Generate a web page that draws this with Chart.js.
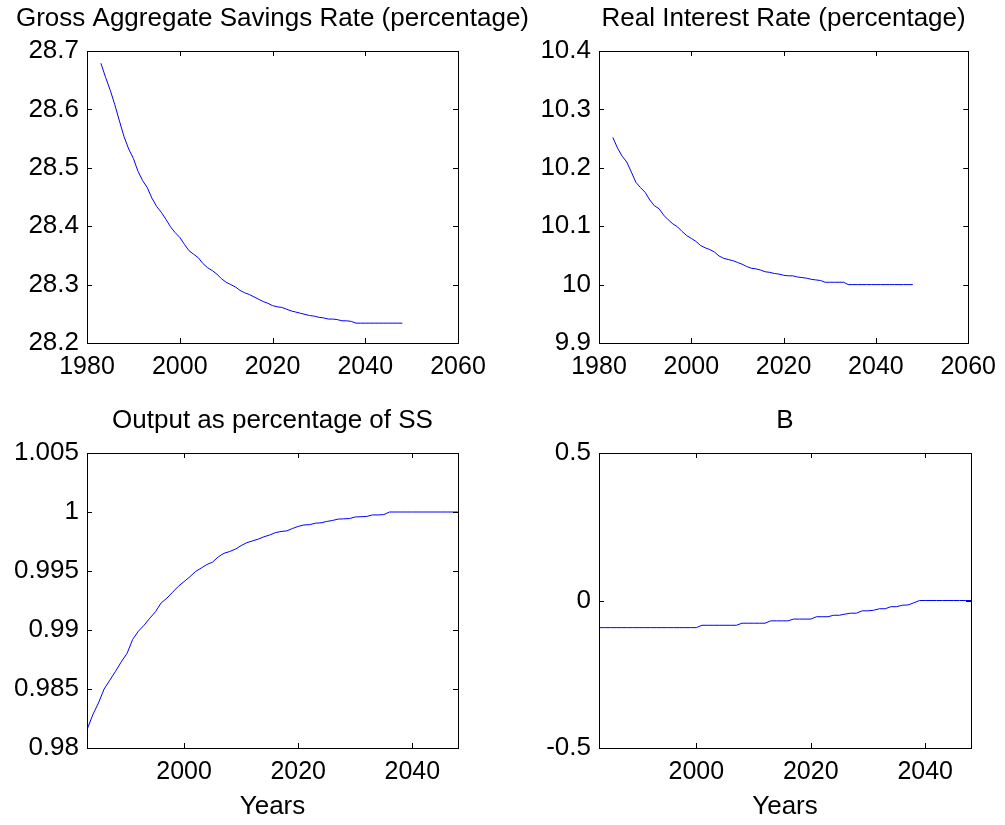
<!DOCTYPE html>
<html>
<head>
<meta charset="utf-8">
<title>Transition paths</title>
<script src="https://cdn.jsdelivr.net/npm/chart.js@4.4.1/dist/chart.umd.min.js"></script>
<style>
  html, body { margin: 0; padding: 0; background: #fff; }
  #wrap { position: relative; width: 1005px; height: 825px; }
  #wrap canvas { position: absolute; left: 0; top: 0; }
</style>
</head>
<body>
<div id="wrap">
  <canvas id="savingsChart" width="1005" height="825"></canvas>
  <canvas id="interestChart" width="1005" height="825"></canvas>
  <canvas id="outputChart" width="1005" height="825"></canvas>
  <canvas id="bChart" width="1005" height="825"></canvas>
</div>
<script>
// simulated years
const years = [
  1983, 1984, 1985, 1986, 1987, 1988, 1989, 1990, 1991, 1992, 1993,
  1994, 1995, 1996, 1997, 1998, 1999, 2000, 2001, 2002, 2003, 2004,
  2005, 2006, 2007, 2008, 2009, 2010, 2011, 2012, 2013, 2014, 2015,
  2016, 2017, 2018, 2019, 2020, 2021, 2022, 2023, 2024, 2025, 2026,
  2027, 2028, 2029, 2030, 2031, 2032, 2033, 2034, 2035, 2036, 2037,
  2038, 2039, 2040, 2041, 2042, 2043, 2044, 2045, 2046, 2047, 2048
];

const savingsRate = [
  28.679, 28.655, 28.633, 28.608, 28.580, 28.553, 28.532, 28.516, 28.494, 28.478, 28.466,
  28.448, 28.434, 28.424, 28.412, 28.399, 28.389, 28.381, 28.369, 28.358, 28.352, 28.346,
  28.336, 28.329, 28.324, 28.318, 28.310, 28.304, 28.300, 28.296, 28.290, 28.286, 28.283,
  28.279, 28.275, 28.271, 28.268, 28.264, 28.262, 28.261, 28.258, 28.255, 28.253, 28.251,
  28.249, 28.247, 28.246, 28.244, 28.243, 28.241, 28.241, 28.240, 28.238, 28.238, 28.237,
  28.234, 28.234, 28.234, 28.234, 28.234, 28.234, 28.234, 28.234, 28.234, 28.234, 28.234
];

const interestRate = [
  10.252, 10.234, 10.220, 10.210, 10.193, 10.175, 10.166, 10.158, 10.145, 10.135, 10.130,
  10.119, 10.111, 10.104, 10.099, 10.091, 10.084, 10.079, 10.074, 10.067, 10.063, 10.060,
  10.056, 10.049, 10.045, 10.043, 10.041, 10.038, 10.035, 10.031, 10.028, 10.027, 10.025,
  10.022, 10.021, 10.019, 10.018, 10.016, 10.015, 10.015, 10.013, 10.012, 10.011, 10.009,
  10.008, 10.007, 10.004, 10.004, 10.004, 10.004, 10.004, 10.000, 10.000, 10.000, 10.000,
  10.000, 10.000, 10.000, 10.000, 10.000, 10.000, 10.000, 10.000, 10.000, 10.000, 10.000
];

const outputRatio = [
  0.98155, 0.98280, 0.98381, 0.98500, 0.98575, 0.98650, 0.98730, 0.98800, 0.98920, 0.98990, 0.99040,
  0.99100, 0.99155, 0.99230, 0.99270, 0.99320, 0.99370, 0.99410, 0.99450, 0.99495, 0.99525, 0.99555,
  0.99575, 0.99620, 0.99650, 0.99665, 0.99685, 0.99715, 0.99740, 0.99755, 0.99770, 0.99790, 0.99805,
  0.99825, 0.99835, 0.99840, 0.99860, 0.99878, 0.99890, 0.99893, 0.99905, 0.99908, 0.99920, 0.99928,
  0.99940, 0.99942, 0.99945, 0.99958, 0.99960, 0.99962, 0.99975, 0.99975, 0.99978, 1.00000, 1.00000,
  1.00000, 1.00000, 1.00000, 1.00000, 1.00000, 1.00000, 1.00000, 1.00000, 1.00000, 1.00000, 1.00000
];

const bValues = [
  -0.092, -0.092, -0.092, -0.092, -0.092, -0.092, -0.092, -0.092, -0.092, -0.092, -0.092,
  -0.092, -0.092, -0.092, -0.092, -0.092, -0.092, -0.092, -0.084, -0.084, -0.084, -0.084,
  -0.084, -0.084, -0.084, -0.077, -0.077, -0.077, -0.077, -0.077, -0.069, -0.069, -0.069,
  -0.069, -0.063, -0.063, -0.063, -0.063, -0.055, -0.055, -0.055, -0.050, -0.050, -0.046,
  -0.043, -0.043, -0.035, -0.035, -0.033, -0.028, -0.028, -0.021, -0.021, -0.016, -0.015,
  -0.008, 0, 0, 0, 0, 0, 0, 0, 0, 0, 0
];

// tick values
const xTicksTop = [1980, 2000, 2020, 2040, 2060];
const xTicksBottom = [2000, 2020, 2040];
const savingsTicks = [28.2, 28.3, 28.4, 28.5, 28.6, 28.7];
const interestTicks = [9.9, 10, 10.1, 10.2, 10.3, 10.4];
const outputTicks = [0.98, 0.985, 0.99, 0.995, 1, 1.005];
const bTicks = [-0.5, 0, 0.5];

const FONT = '"Liberation Sans", Arial, Helvetica, sans-serif';
const W = 1005, H = 825;
const Y_AXIS_W = 80;

// box around the axes with inward ticks on every side, plus the panel title
const boxAxes = {
  id: 'boxAxes',
  afterDraw(chart, args, opts) {
    const { ctx, chartArea: a, scales } = chart;
    const len = 5;
    ctx.save();
    ctx.strokeStyle = '#000';
    ctx.lineWidth = 1;
    ctx.beginPath();
    scales.x.ticks.forEach(t => {
      const px = Math.round(scales.x.getPixelForValue(t.value)) + 0.5;
      ctx.moveTo(px, a.top);
      ctx.lineTo(px, a.top + len);
      ctx.moveTo(px, a.bottom);
      ctx.lineTo(px, a.bottom - len);
    });
    scales.y.ticks.forEach(t => {
      const py = Math.round(scales.y.getPixelForValue(t.value)) + 0.5;
      ctx.moveTo(a.left, py);
      ctx.lineTo(a.left + len, py);
      ctx.moveTo(a.right, py);
      ctx.lineTo(a.right - len, py);
    });
    ctx.stroke();
    ctx.strokeRect(Math.round(a.left) + 0.5, Math.round(a.top) + 0.5,
                   Math.round(a.right - a.left), Math.round(a.bottom - a.top));

    ctx.fillStyle = '#000';
    ctx.font = '26px ' + FONT;
    ctx.textAlign = 'center';
    ctx.textBaseline = 'middle';
    ctx.fillText(opts.text, (a.left + a.right) / 2, a.top - 32);
    ctx.restore();
  }
};

function fmt(v) {
  return String(parseFloat(Number(v).toFixed(4)));
}

function makePanel(id, o) {
  const xH = o.xTitle ? 77 : 45;
  new Chart(document.getElementById(id), {
    type: 'line',
    data: {
      datasets: [{
        data: years.map((yr, i) => ({ x: yr, y: o.values[i] })),
        borderColor: '#0000ff',
        borderWidth: 1,
        pointRadius: 0,
        tension: 0,
        fill: false
      }]
    },
    options: {
      responsive: false,
      animation: false,
      devicePixelRatio: 1,
      layout: {
        padding: {
          left: o.area.left - Y_AXIS_W,
          top: o.area.top,
          right: W - o.area.right,
          bottom: H - o.area.bottom - xH
        }
      },
      plugins: {
        legend: { display: false },
        tooltip: { enabled: false },
        boxAxes: { text: o.title }
      },
      scales: {
        x: {
          type: 'linear',
          min: o.xMin,
          max: o.xMax,
          afterBuildTicks: s => { s.ticks = o.xTicks.map(v => ({ value: v })); },
          afterFit: s => { s.height = xH; },
          grid: { display: false, drawTicks: false },
          border: { display: false },
          ticks: {
            padding: 9,
            color: '#000',
            maxRotation: 0,
            autoSkip: false,
            font: { family: FONT, size: 25 },
            callback: v => String(v)
          },
          title: {
            display: !!o.xTitle,
            text: o.xTitle || '',
            color: '#000',
            font: { family: FONT, size: 26 },
            padding: { top: 0, bottom: 3 }
          }
        },
        y: {
          type: 'linear',
          min: o.yMin,
          max: o.yMax,
          afterBuildTicks: s => { s.ticks = o.yTicks.map(v => ({ value: v })); },
          afterFit: s => { s.width = Y_AXIS_W; },
          grid: { display: false, drawTicks: false },
          border: { display: false },
          ticks: {
            padding: 8,
            color: '#000',
            autoSkip: false,
            font: { family: FONT, size: 26 },
            callback: v => fmt(v)
          }
        }
      }
    },
    plugins: [boxAxes]
  });
}

makePanel('savingsChart', {
  title: 'Gross Aggregate Savings Rate (percentage)',
  values: savingsRate,
  area: { left: 87, top: 51, right: 458, bottom: 343 },
  xMin: 1980, xMax: 2060, xTicks: xTicksTop,
  yMin: 28.2, yMax: 28.7, yTicks: savingsTicks
});

makePanel('interestChart', {
  title: 'Real Interest Rate (percentage)',
  values: interestRate,
  area: { left: 599, top: 51, right: 971, bottom: 343 },
  xMin: 1980, xMax: 2060, xTicks: xTicksTop,
  yMin: 9.9, yMax: 10.4, yTicks: interestTicks
});

makePanel('outputChart', {
  title: 'Output as percentage of SS',
  values: outputRatio,
  area: { left: 87, top: 453, right: 458, bottom: 748 },
  xMin: 1983, xMax: 2048, xTicks: xTicksBottom, xTitle: 'Years',
  yMin: 0.98, yMax: 1.005, yTicks: outputTicks
});

makePanel('bChart', {
  title: 'B',
  values: bValues,
  area: { left: 599, top: 453, right: 971, bottom: 748 },
  xMin: 1983, xMax: 2048, xTicks: xTicksBottom, xTitle: 'Years',
  yMin: -0.5, yMax: 0.5, yTicks: bTicks
});
</script>
</body>
</html>
